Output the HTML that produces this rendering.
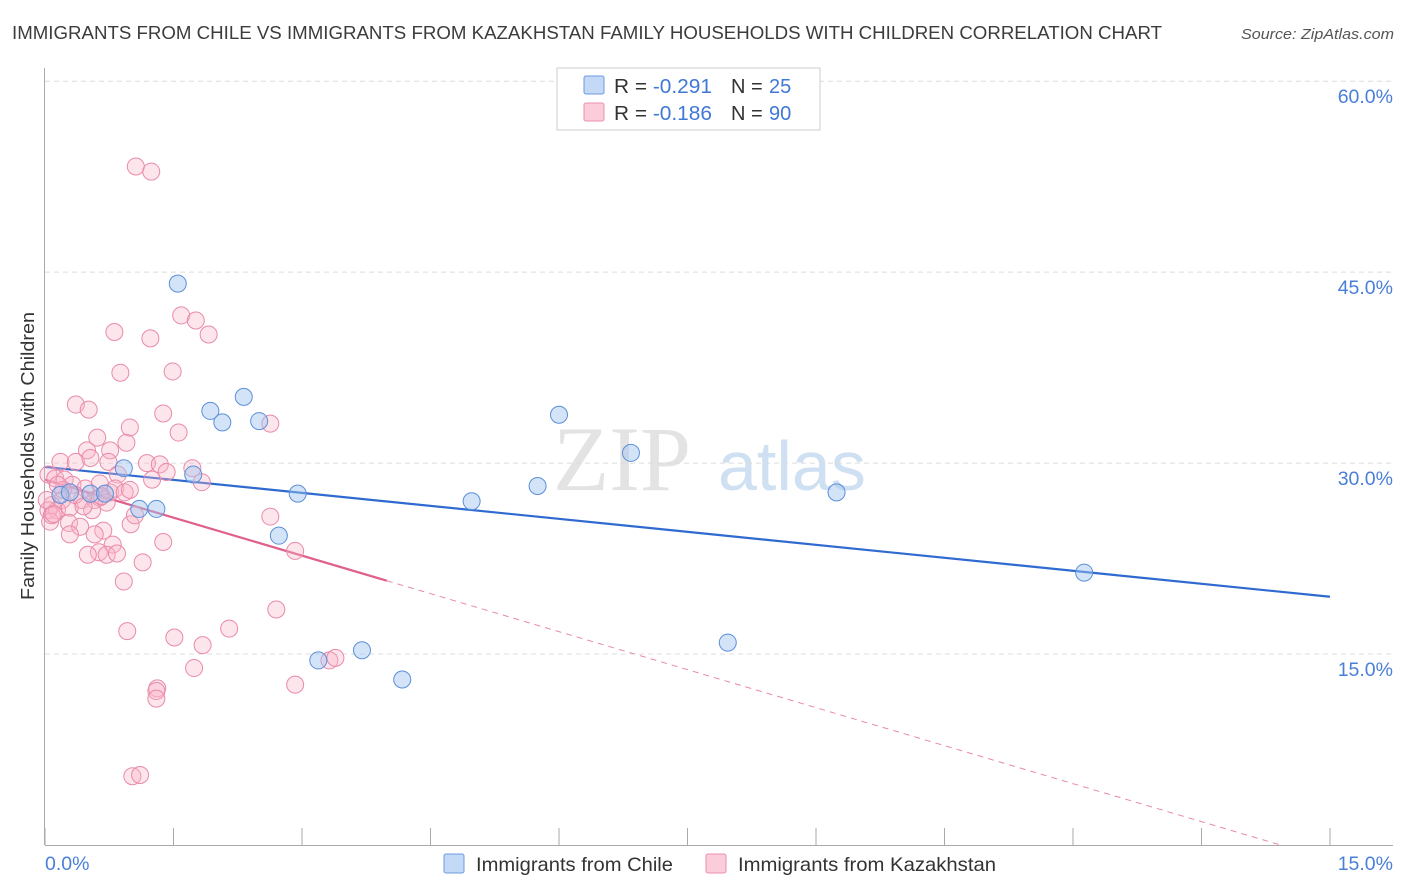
<!DOCTYPE html>
<html><head><meta charset="utf-8">
<style>
body{margin:0;background:#fff;font-family:"Liberation Sans",sans-serif;}
svg{display:block}
</style></head><body>
<svg width="1406" height="892" xmlns="http://www.w3.org/2000/svg">
<text x="12" y="39" font-size="18" fill="#3c3c3c" textLength="1150" lengthAdjust="spacingAndGlyphs">IMMIGRANTS FROM CHILE VS IMMIGRANTS FROM KAZAKHSTAN FAMILY HOUSEHOLDS WITH CHILDREN CORRELATION CHART</text>
<text x="1241" y="39" font-size="15" fill="#555" font-style="italic" textLength="153" lengthAdjust="spacingAndGlyphs">Source: ZipAtlas.com</text>
<g>
<text x="553" y="490" font-size="92" fill="#d8d8d8" font-family="Liberation Serif, serif" opacity="0.7">ZIP</text>
<text x="718" y="490" font-size="70" fill="#bcd3ef" opacity="0.7">atlas</text>
</g>
<g id="grid"></g>
<g id="axes"></g>
<text transform="translate(34,456) rotate(-90)" font-size="18.5" fill="#333" text-anchor="middle" textLength="288" lengthAdjust="spacingAndGlyphs">Family Households with Children</text>
<g id="lines"></g>
<g id="pts"></g>
<g>
<rect x="557" y="68" width="263" height="62" fill="#fff" stroke="#ccc"/>
<rect x="584" y="76" width="20" height="18" fill="#c4d9f5" stroke="#6b9be0" rx="2"/>
<rect x="584" y="103" width="20" height="18" fill="#fbccd9" stroke="#ec8fae" rx="2"/>
<text x="614" y="93" font-size="20" fill="#333" textLength="98" lengthAdjust="spacingAndGlyphs">R = <tspan fill="#3f78d6">-0.291</tspan></text>
<text x="731" y="93" font-size="20" fill="#333">N =</text>
<text x="769" y="93" font-size="20" fill="#3f78d6">25</text>
<text x="614" y="120" font-size="20" fill="#333" textLength="98" lengthAdjust="spacingAndGlyphs">R = <tspan fill="#3f78d6">-0.186</tspan></text>
<text x="731" y="120" font-size="20" fill="#333">N =</text>
<text x="769" y="120" font-size="20" fill="#3f78d6">90</text>
</g>
<g>
<rect x="444" y="854" width="20" height="19" fill="#c4d9f5" stroke="#6b9be0" rx="2"/>
<text x="476" y="871" font-size="19.5" fill="#333" textLength="197" lengthAdjust="spacingAndGlyphs">Immigrants from Chile</text>
<rect x="706" y="854" width="20" height="19" fill="#fbccd9" stroke="#ec8fae" rx="2"/>
<text x="738" y="871" font-size="19.5" fill="#333" textLength="258" lengthAdjust="spacingAndGlyphs">Immigrants from Kazakhstan</text>
</g>
</svg>
<script>
const xTicks=[0,1.5,3,4.5,6,7.5,9,10.5,12,13.5,15];
const yTicks=[15,30,45,60];
const yTickLabels=["15.0%","30.0%","45.0%","60.0%"];
const xTickLabels=["0.0%","15.0%"];
const chileX=[1.55,2.32,1.93,2.07,2.50,6.00,6.84,0.92,1.73,2.95,4.98,5.75,9.24,1.10,1.30,2.73,12.13,7.97,3.19,3.70,4.17,0.18,0.53,0.70,0.29];
const chileY=[44.1,35.2,34.1,33.2,33.3,33.8,30.8,29.6,29.1,27.6,27.0,28.2,27.7,26.4,26.4,24.3,21.4,15.9,14.5,15.3,13.0,27.5,27.6,27.6,27.7];
const kazX=[1.06,1.24,0.81,1.23,1.59,1.76,1.91,0.88,1.49,0.36,0.51,1.38,1.56,2.63,0.61,0.95,0.99,0.76,0.49,0.18,0.36,0.53,1.19,1.34,1.42,1.72,1.83,0.74,0.85,1.25,0.04,0.12,0.23,0.32,0.47,0.58,0.64,0.76,0.82,0.93,0.20,0.08,0.04,0.14,0.29,0.43,0.55,0.28,0.06,0.41,0.68,1.00,1.05,0.29,0.58,0.79,0.63,0.50,0.72,0.84,1.38,1.14,0.92,2.92,2.63,2.70,0.96,2.15,1.51,1.84,1.74,2.92,3.32,3.39,1.31,1.30,1.30,1.02,1.11,0.21,0.15,0.02,0.08,0.35,0.64,0.99,0.72,0.45,0.10,0.66];
const kazY=[53.3,52.9,40.3,39.8,41.6,41.2,40.1,37.1,37.2,34.6,34.2,33.9,32.4,33.1,32.0,31.6,32.8,31.0,31.0,30.1,30.1,30.4,30.0,29.9,29.3,29.6,28.5,30.1,29.1,28.7,29.1,28.8,28.7,28.3,28.0,27.1,27.3,27.7,28.0,27.7,27.1,26.7,26.3,26.3,26.5,27.1,26.3,25.3,25.4,25.0,24.7,25.2,25.9,24.4,24.4,23.6,23.0,22.8,22.8,22.9,23.8,22.2,20.7,23.1,25.8,18.5,16.8,17.0,16.3,15.7,13.9,12.6,14.5,14.7,12.3,12.1,11.5,5.4,5.5,27.9,28.3,27.1,25.9,27.5,28.4,27.9,26.9,26.6,26.0,27.4];
const chileFit=[29.7,-0.68];   // intercept, slope
const kazFit=[28.7,-1.99];
const kazSolidEnd=3.99;

const NS="http://www.w3.org/2000/svg";
const X0=45,X1=1330,Y0=845,PY=12.73;
const sx=v=>X0+(v/15)*(X1-X0);
const sy=v=>Y0-v*PY;
function mk(tag,attrs,parent){const e=document.createElementNS(NS,tag);for(const k in attrs)e.setAttribute(k,attrs[k]);parent.appendChild(e);return e;}
const grid=document.getElementById('grid'),axes=document.getElementById('axes'),lines=document.getElementById('lines'),pts=document.getElementById('pts');
yTicks.forEach((t,i)=>{
  const l=mk('line',{x1:45,x2:1393,y1:sy(t),y2:sy(t),stroke:'#dcdcdc','stroke-dasharray':'5,4'},grid);
  
  
  const tx=mk('text',{x:1393,y:sy(t)+22,'font-size':19.5,fill:'#4a7fd8','text-anchor':'end'},axes);
  tx.textContent=yTickLabels[i];
  
  
});
mk('line',{x1:44.5,x2:44.5,y1:68,y2:845,stroke:'#aaa'},axes);
mk('line',{x1:45,x2:1393,y1:845.5,y2:845.5,stroke:'#aaa'},axes);
xTicks.forEach(t=>{
  const l=mk('line',{x1:sx(t),x2:sx(t),y1:828,y2:845,stroke:'#aaa'},axes);
  
  
});
const xl0=mk('text',{x:45,y:870,'font-size':19.5,fill:'#4a7fd8'},axes);xl0.textContent=xTickLabels[0];


const xl1=mk('text',{x:1393,y:870,'font-size':19.5,fill:'#4a7fd8','text-anchor':'end'},axes);xl1.textContent=xTickLabels[1];



kazX.forEach((x,i)=>{
  const c=mk('circle',{cx:sx(x),cy:sy(kazY[i]),r:8.5,fill:'rgba(248,180,200,0.35)',stroke:'#e98aaa','stroke-width':1},pts);
  
  
});
chileX.forEach((x,i)=>{
  const c=mk('circle',{cx:sx(x),cy:sy(chileY[i]),r:8.5,fill:'rgba(160,195,240,0.45)',stroke:'#5b8fd9','stroke-width':1},pts);
  
  
});
const f=(p,x)=>p[0]+p[1]*x;
const bl=mk('line',{x1:sx(0),y1:sy(f(chileFit,0)),x2:sx(15),y2:sy(f(chileFit,15)),stroke:'#2f6ad0','stroke-width':2.2},lines);


const pl=mk('line',{x1:sx(0),y1:sy(f(kazFit,0)),x2:sx(kazSolidEnd),y2:sy(f(kazFit,kazSolidEnd)),stroke:'#e0608a','stroke-width':2.2},lines);


const xe=-kazFit[0]/kazFit[1];
const pd=mk('line',{x1:sx(kazSolidEnd),y1:sy(f(kazFit,kazSolidEnd)),x2:sx(xe),y2:sy(0),stroke:'#e88aa8','stroke-width':1,'stroke-dasharray':'6,5'},lines);


</script>
</body></html>
